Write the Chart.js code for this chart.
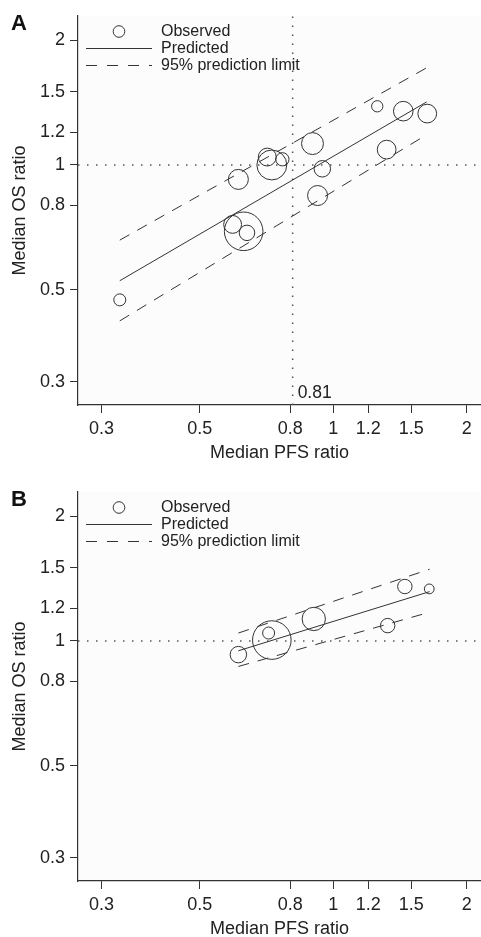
<!DOCTYPE html>
<html>
<head>
<meta charset="utf-8">
<script src="https://cdn.jsdelivr.net/npm/chart.js@4.4.1/dist/chart.umd.min.js"></script>
<style>
    html, body { margin: 0; padding: 0; background: #fff; overflow: hidden; }
    .panel { position: absolute; left: 0; width: 481px; height: 470px; }
</style>
</head>
<body>
<div class="panel" style="top:0"><canvas id="chartA" width="481" height="470"></canvas></div>
<div class="panel" style="top:476px"><canvas id="chartB" width="481" height="470"></canvas></div>
<script>
// axis ticks + ranges (log scales on both axes)
const tickValues = [0.3, 0.5, 0.8, 1, 1.2, 1.5, 2];
const xRange = [0.2656, 2.155];
const yRange = [0.2639, 2.286];
const legendLabels = ['Observed', 'Predicted', '95% prediction limit'];

// panel A - all trials
const pfsA = [0.33, 0.611, 0.593, 0.628, 0.639, 0.710, 0.727, 0.768, 0.898, 0.945, 0.922, 1.257, 1.439, 1.630, 1.320];
const osA = [0.473, 0.923, 0.719, 0.692, 0.686, 1.045, 1.000, 1.032, 1.126, 0.979, 0.844, 1.385, 1.348, 1.330, 1.089];
const weightA = [9, 25, 20, 93, 15, 20, 56, 11, 30, 17, 25, 8, 24, 22, 22];
const fitXA = [0.33, 1.625];
const predA = [0.526, 1.419];
const upperA = [0.659, 1.715];
const lowerA = [0.421, 1.183];
const thresholdA = 0.81;

// panel B - subset
const pfsB = [0.611, 0.715, 0.727, 0.904, 1.327, 1.451, 1.647];
const osB = [0.927, 1.045, 1.005, 1.130, 1.089, 1.353, 1.335];
const weightB = [17, 9, 93, 34, 13, 13, 6];
const fitXB = [0.611, 1.65];
const predB = [0.947, 1.315];
const upperB = [1.045, 1.489];
const lowerB = [0.868, 1.173];

const FONT = "'Liberation Sans', Arial, Helvetica, sans-serif";
const INK = '#333';
Chart.defaults.font.family = FONT;
Chart.defaults.color = '#222';

const pts = (xs, ys) => xs.map((x, i) => ({ x, y: ys[i] }));

function lineSet(data, dash, extra) {
    return Object.assign({
        type: 'line', data, borderColor: INK, borderWidth: 1,
        borderDash: dash, pointRadius: 0, fill: false, tension: 0
    }, extra || {});
}

const decor = {
    id: 'decor',
    beforeDraw(chart) {
        const { ctx, chartArea: a } = chart;
        ctx.save();
        ctx.fillStyle = '#fcfcfc';
        ctx.fillRect(a.left, a.top, a.right - a.left, a.bottom - a.top);
        ctx.restore();
    },
    afterDraw(chart, args, opts) {
        const { ctx, chartArea: a, scales } = chart;
        ctx.save();
        ctx.fillStyle = '#111';
        ctx.font = 'bold 22px ' + FONT;
        ctx.textBaseline = 'alphabetic';
        ctx.fillText(opts.letter, 11, 30);

        // legend
        const rows = [a.top + 15.5, a.top + 32.5, a.top + 49.5];
        ctx.strokeStyle = INK;
        ctx.lineWidth = 1;
        ctx.beginPath();
        ctx.arc(a.left + 41, rows[0], 5.8, 0, Math.PI * 2);
        ctx.stroke();
        ctx.beginPath();
        ctx.moveTo(a.left + 8, rows[1]);
        ctx.lineTo(a.left + 74, rows[1]);
        ctx.stroke();
        ctx.setLineDash([11, 10]);
        ctx.beginPath();
        ctx.moveTo(a.left + 8, rows[2]);
        ctx.lineTo(a.left + 74, rows[2]);
        ctx.stroke();
        ctx.setLineDash([]);
        ctx.fillStyle = '#222';
        ctx.font = '16px ' + FONT;
        ctx.textBaseline = 'middle';
        legendLabels.forEach((t, i) => ctx.fillText(t, a.left + 83, rows[i]));

        if (opts.threshold) {
            ctx.font = '17.5px ' + FONT;
            ctx.fillText(String(opts.threshold), scales.x.getPixelForValue(opts.threshold) + 5, a.bottom - 12);
        }
        ctx.restore();
    }
};

function makePanel(id, letter, pfs, os, weight, fitX, pred, upper, lower, threshold) {
    const datasets = [
        {
            type: 'bubble',
            data: pfs.map((x, i) => ({ x, y: os[i], r: 2 * Math.sqrt(weight[i]) })),
            borderColor: INK, borderWidth: 1, backgroundColor: 'rgba(0,0,0,0)'
        },
        lineSet(pts(fitX, pred), []),
        lineSet(pts(fitX, upper), [11, 9]),
        lineSet(pts(fitX, lower), [11, 9]),
        lineSet(pts(xRange, [1, 1]), [1.5, 7.5], { borderColor: '#555', borderWidth: 1.5 })
    ];
    if (threshold) {
        datasets.push(lineSet(pts([threshold, threshold], yRange), [1.5, 7.5], { borderColor: '#555', borderWidth: 1.5 }));
    }

    const axis = (min, max, title) => ({
        type: 'logarithmic',
        min, max,
        bounds: 'data',
        afterBuildTicks: s => { s.ticks = tickValues.map(v => ({ value: v })); },
        ticks: { callback: v => String(v), font: { size: 18 }, padding: 5, autoSkip: false, maxRotation: 0, color: '#222' },
        grid: { drawOnChartArea: false, tickLength: 8, tickColor: INK, tickWidth: 1 },
        border: { color: INK, width: 1.2 },
        title: { display: true, text: title, font: { size: 18 }, color: '#222' }
    });

    const x = axis(xRange[0], xRange[1], 'Median PFS ratio');
    x.afterFit = s => { s.height = 65; s.paddingLeft = 0; s.paddingRight = 0; };
    x.title.padding = { top: 0, bottom: 6.5 };
    const y = axis(yRange[0], yRange[1], 'Median OS ratio');
    y.afterFit = s => { s.width = 78; s.paddingTop = 0; s.paddingBottom = 0; };
    y.title.padding = { top: 9.2, bottom: 0 };

    new Chart(id, {
        type: 'bubble',
        data: { datasets },
        options: {
            responsive: false,
            animation: false,
            layout: { autoPadding: false, padding: { top: 16, left: 0, right: 0, bottom: 0 } },
            scales: { x, y },
            plugins: {
                legend: { display: false },
                tooltip: { enabled: false },
                decor: { letter, threshold }
            }
        },
        plugins: [decor]
    });
}

makePanel('chartA', 'A', pfsA, osA, weightA, fitXA, predA, upperA, lowerA, thresholdA);
makePanel('chartB', 'B', pfsB, osB, weightB, fitXB, predB, upperB, lowerB, null);
</script>
</body>
</html>
